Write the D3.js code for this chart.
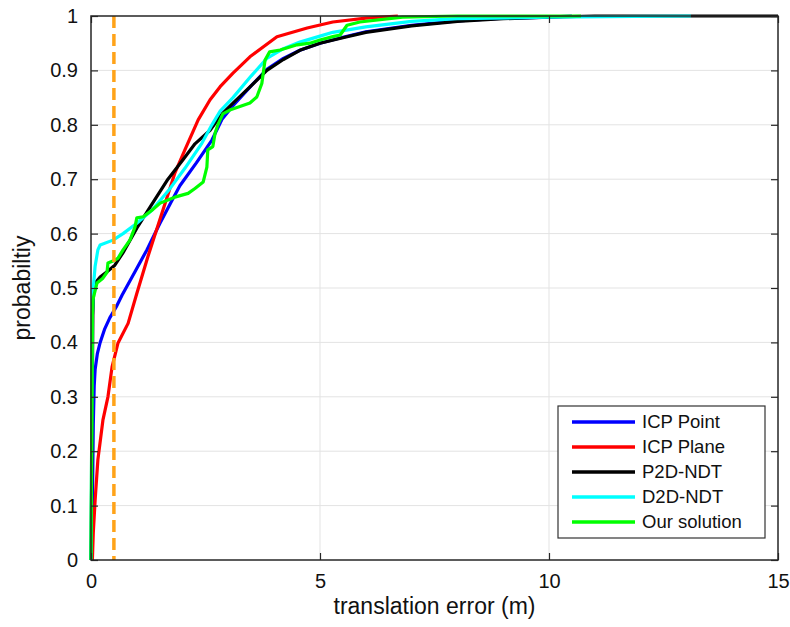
<!DOCTYPE html>
<html>
<head>
<meta charset="utf-8">
<script src="https://cdn.jsdelivr.net/npm/d3@7"></script>
<style>
  body { margin: 0; background: #fff; }
  svg { display: block; font-family: "Liberation Sans", Arial, Helvetica, sans-serif; }
</style>
</head>
<body>
<svg id="chart" width="790" height="627"></svg>
<script>
// values: [translation error (m), probability]
var icpPoint = [[0,0],[0.03,0.1],[0.05,0.25],[0.07,0.32],[0.09,0.35],[0.14,0.38],[0.2,0.4],[0.3,0.425],[0.41,0.445],
  [0.55,0.465],[0.68,0.487],[0.96,0.53],[1.22,0.57],[1.5,0.618],[1.75,0.658],[1.94,0.688],[2.3,0.73],[2.64,0.772],
  [2.86,0.81],[3.1,0.835],[3.5,0.872],[3.84,0.902],[4.2,0.922],[4.56,0.937],[5.0,0.95],[5.5,0.961],[6,0.971],
  [7,0.983],[8,0.991],[9,0.996],[10,0.998],[10.5,1]];

var icpPlane = [[0.03,0],[0.05,0.05],[0.09,0.11],[0.15,0.184],[0.26,0.257],[0.37,0.3],[0.46,0.355],[0.59,0.399],
  [0.81,0.435],[1.0,0.49],[1.24,0.557],[1.55,0.638],[1.83,0.711],[2.05,0.754],[2.34,0.809],[2.6,0.846],[2.82,0.87],
  [3.1,0.895],[3.47,0.925],[4.06,0.962],[4.72,0.978],[5.28,0.989],[6,0.996],[6.7,1]];

var p2dNdt = [[0,0],[0.02,0.2],[0.04,0.45],[0.06,0.5],[0.09,0.509],[0.2,0.52],[0.35,0.53],[0.52,0.542],[0.7,0.565],
  [1.0,0.61],[1.3,0.65],[1.68,0.70],[2.0,0.735],[2.27,0.765],[2.6,0.79],[2.86,0.82],[3.1,0.84],[3.5,0.872],
  [3.84,0.9],[4.2,0.92],[4.56,0.937],[5,0.95],[5.5,0.96],[6,0.97],[7,0.982],[8,0.99],[9,0.995],[10,0.998],[11,1],[15,1]];

var d2dNdt = [[0,0],[0.02,0.3],[0.03,0.45],[0.05,0.5],[0.09,0.54],[0.15,0.57],[0.2,0.579],[0.48,0.588],[0.7,0.6],
  [1.0,0.619],[1.33,0.643],[1.7,0.68],[2.05,0.72],[2.42,0.766],[2.64,0.8],[2.82,0.825],[3.1,0.85],[3.5,0.89],
  [3.84,0.922],[4.2,0.94],[4.56,0.952],[5.0,0.963],[5.28,0.97],[6,0.98],[7,0.99],[8,0.995],[10,0.998],[13.1,1]];

var ourSolution = [[0,0],[0.02,0.3],[0.03,0.45],[0.04,0.478],[0.13,0.509],[0.26,0.518],[0.35,0.529],[0.37,0.546],
  [0.52,0.551],[0.59,0.555],[0.7,0.57],[0.85,0.588],[0.96,0.612],[1.0,0.629],[1.14,0.631],[1.33,0.643],[1.51,0.656],
  [1.83,0.667],[2.12,0.674],[2.27,0.683],[2.45,0.695],[2.53,0.722],[2.55,0.754],[2.66,0.76],[2.71,0.785],[2.77,0.8],
  [2.88,0.82],[3.03,0.827],[3.47,0.84],[3.62,0.851],[3.73,0.876],[3.8,0.919],[3.9,0.934],[4.13,0.9375],[4.5,0.947],
  [4.78,0.95],[5.0,0.956],[5.28,0.962],[5.44,0.965],[5.59,0.983],[5.87,0.989],[6.8,0.998],[8,1],[10.7,1]];

var seriesNames = ["ICP Point", "ICP Plane", "P2D-NDT", "D2D-NDT", "Our solution"];
var seriesColors = ["#0000ff", "#ff0000", "#000000", "#00ffff", "#00ff00"];
var seriesData = [icpPoint, icpPlane, p2dNdt, d2dNdt, ourSolution];

var xTicks = [0, 5, 10, 15];
var yTicks = [0, 0.1, 0.2, 0.3, 0.4, 0.5, 0.6, 0.7, 0.8, 0.9, 1];
var thresholdX = 0.5;

var svg = d3.select("#chart");
var margin = {top: 16, right: 12, bottom: 67, left: 91};
var width = 790 - margin.left - margin.right,
    height = 627 - margin.top - margin.bottom;

var x = d3.scaleLinear().domain([0, 15]).range([0, width]);
var y = d3.scaleLinear().domain([0, 1]).range([height, 0]);

var g = svg.append("g").attr("transform", "translate(" + margin.left + "," + margin.top + ")");

// grid
g.append("g").selectAll("line").data(yTicks.slice(1, -1)).enter().append("line")
  .attr("x1", 0).attr("x2", width)
  .attr("y1", d => y(d)).attr("y2", d => y(d))
  .attr("stroke", "#e3e3e3").attr("stroke-width", 1);
g.append("g").selectAll("line").data(xTicks.slice(1, -1)).enter().append("line")
  .attr("x1", d => x(d)).attr("x2", d => x(d))
  .attr("y1", 0).attr("y2", height)
  .attr("stroke", "#e3e3e3").attr("stroke-width", 1);

g.append("clipPath").attr("id", "clip")
  .append("rect").attr("x", -3).attr("y", -3).attr("width", width + 6).attr("height", height + 3);

var line = d3.line().x(d => x(d[0])).y(d => y(d[1]));

var plot = g.append("g").attr("clip-path", "url(#clip)");
plot.selectAll("path.series").data(seriesData).enter().append("path")
  .attr("class", "series")
  .attr("d", line)
  .attr("fill", "none")
  .attr("stroke", (d, i) => seriesColors[i])
  .attr("stroke-width", 3.2)
  .attr("stroke-linejoin", "round");

// threshold line
plot.append("line")
  .attr("x1", x(thresholdX)).attr("x2", x(thresholdX))
  .attr("y1", y(1)).attr("y2", y(0))
  .attr("stroke", "#ffa319").attr("stroke-width", 3.5)
  .attr("stroke-dasharray", "12,6");

// axes (MATLAB style: ticks inside on all four sides)
var tickLen = 7;
var axisColor = "#262626";
g.append("g").attr("transform", "translate(0," + height + ")")
  .call(d3.axisBottom(x).tickValues(xTicks).tickSizeInner(-tickLen).tickSizeOuter(0).tickPadding(14))
  .call(a => a.select(".domain").remove());
g.append("g").call(d3.axisTop(x).tickValues(xTicks).tickSizeInner(-tickLen).tickSizeOuter(0).tickFormat(""))
  .call(a => a.select(".domain").remove());
g.append("g")
  .call(d3.axisLeft(y).tickValues(yTicks).tickSizeInner(-tickLen).tickSizeOuter(0).tickPadding(13).tickFormat(d3.format("")))
  .call(a => a.select(".domain").remove());
g.append("g").attr("transform", "translate(" + width + ",0)")
  .call(d3.axisRight(y).tickValues(yTicks).tickSizeInner(-tickLen).tickSizeOuter(0).tickFormat(""))
  .call(a => a.select(".domain").remove());

g.selectAll(".tick line").attr("stroke", axisColor).attr("stroke-width", 1.2);
g.selectAll(".tick text").attr("fill", "#111").style("font-size", "20px")
  .style("font-family", "'Liberation Sans', Arial, sans-serif");

g.append("rect").attr("x", 0).attr("y", 0).attr("width", width).attr("height", height)
  .attr("fill", "none").attr("stroke", axisColor).attr("stroke-width", 1.5);

// axis labels
svg.append("text")
  .attr("x", margin.left + width / 2).attr("y", 614)
  .attr("text-anchor", "middle").style("font-size", "23px").attr("fill", "#111")
  .text("translation error (m)");
svg.append("text")
  .attr("transform", "translate(30," + (margin.top + height / 2) + ") rotate(-90)")
  .attr("text-anchor", "middle").style("font-size", "23px").attr("fill", "#111")
  .text("probabiltiy");

// legend
var legend = svg.append("g").attr("transform", "translate(558,406)");
legend.append("rect").attr("width", 207).attr("height", 132)
  .attr("fill", "#fff").attr("stroke", "#333").attr("stroke-width", 1.2);
var rows = legend.selectAll("g.row").data(seriesNames).enter().append("g")
  .attr("class", "row")
  .attr("transform", (d, i) => "translate(0," + (16 + i * 25) + ")");
rows.append("line").attr("x1", 14).attr("x2", 77).attr("y1", 0).attr("y2", 0)
  .attr("stroke", (d, i) => seriesColors[i]).attr("stroke-width", 3.5);
rows.append("text").attr("x", 84).attr("dy", "0.35em")
  .style("font-size", "18.5px").attr("fill", "#111")
  .text(d => d);
</script>
</body>
</html>
